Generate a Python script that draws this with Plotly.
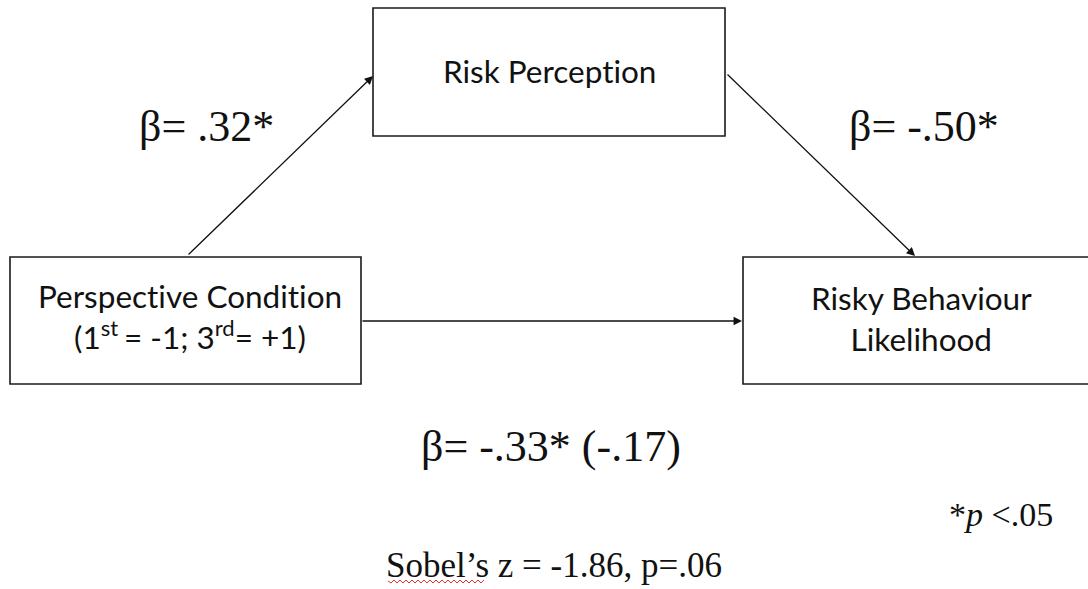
import plotly.graph_objects as go

# ---- diagram content ----
ZWNJ = "\u200c"  # prevents the Lato "ti" ligature
node_labels = [f"Risk Percept{ZWNJ}ion",
               f"Perspect{ZWNJ}ive Condit{ZWNJ}ion<br>(1<sup>st </sup>= -1; 3<sup>rd</sup>= +1)",
               "Risky Behaviour<br>Likelihood"]
path_coefs = ["β= .32*", "β= -.50*", "β= -.33* (-.17)"]
note_text = "*<i>p</i> <.05"
sobel_text = "Sobel’s z = -1.86, p=.06"

# ---- layout geometry (screen pixels, y down) ----
W, H = 1088, 589
boxes = [(373, 8, 725, 136), (10, 257, 361, 384), (743, 257, 1095, 384)]
label_pos = [(549, 71), (190, 316), (921, 318)]
arrows = [((187, 256), (373, 76)), ((726, 73), (915, 256)), ((361, 321), (742, 321))]
coef_pos = [(206, 126), (924, 126), (551, 446)]

SANS = "Lato, 'Open Sans', sans-serif"
SERIF = "'Liberation Serif', 'Times New Roman', serif"

fig = go.Figure()
shapes = []
for (x0, y0, x1, y1) in boxes:
    shapes.append(dict(type="rect", x0=x0, y0=y0, x1=x1, y1=y1, xref="x", yref="y",
                       line=dict(color="#1a1a1a", width=1.6), fillcolor="white"))

annotations = []
for lbl, (x, y) in zip(node_labels, label_pos):
    annotations.append(dict(x=x, y=y, text=lbl, showarrow=False,
                            font=dict(family=SANS, size=31.5, color="#111"),
                            xanchor="center", yanchor="middle"))
for (s, e) in arrows:
    annotations.append(dict(x=e[0], y=e[1], ax=s[0], ay=s[1], xref="x", yref="y",
                            axref="x", ayref="y", text="", showarrow=True,
                            arrowhead=2, arrowsize=1.3, arrowwidth=1.3,
                            arrowcolor="#111"))
for txt, (x, y) in zip(path_coefs, coef_pos):
    annotations.append(dict(x=x, y=y, text=txt, showarrow=False,
                            font=dict(family=SERIF, size=44, color="#111"),
                            xanchor="center", yanchor="middle"))
annotations.append(dict(x=1001, y=514, text=note_text, showarrow=False,
                        font=dict(family=SERIF, size=34, color="#111"),
                        xanchor="center", yanchor="middle"))
annotations.append(dict(x=554, y=565, text=sobel_text, showarrow=False,
                        font=dict(family=SERIF, size=35, color="#111"),
                        xanchor="center", yanchor="middle"))

# red wavy spell-check underline under "Sobel’s"
wave = "M 388 581 " + " ".join(f"L {388 + 3 * i} {581 + (2 if i % 2 else -1)}" for i in range(1, 33))
shapes.append(dict(type="path", path=wave, xref="x", yref="y",
                   line=dict(color="#e03030", width=1)))

fig.update_layout(
    width=W, height=H, margin=dict(l=0, r=0, t=0, b=0),
    paper_bgcolor="white", plot_bgcolor="white",
    xaxis=dict(range=[0, W], visible=False, fixedrange=True),
    yaxis=dict(range=[H, 0], visible=False, fixedrange=True),
    shapes=shapes, annotations=annotations, showlegend=False,
)
fig.write_html("out.html", config={"displayModeBar": False},
               post_script="document.body.style.margin='0';document.body.style.overflow='hidden';")
